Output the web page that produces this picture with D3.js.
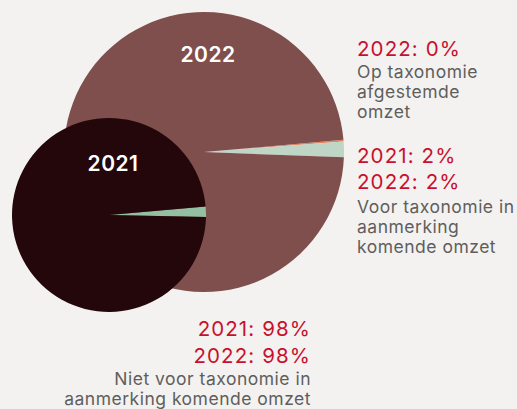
<!DOCTYPE html>
<html>
<head>
<meta charset="utf-8">
<script src="https://cdn.jsdelivr.net/npm/d3@7"></script>
<style>
  body { margin: 0; background: #f3f2f0; }
  svg { display: block; font-family: Inter, "Noto Sans", sans-serif; }
</style>
</head>
<body>
<svg id="chart"></svg>
<script>
const width = 517;
const height = 409;

// share of revenue per category
const categories = ["Op taxonomie afgestemde omzet", "Voor taxonomie in aanmerking komende omzet", "Niet voor taxonomie in aanmerking komende omzet"];
const values2021 = [0, 1.7, 98.3];
const values2022 = [0.2, 1.8, 98];
const colors2021 = ["#e8835f", "#93bfa2", "#24070a"];
const colors2022 = ["#e8835f", "#bfd5c5", "#7f4f4d"];

const svg = d3.select("#chart")
              .attr("width", width)
              .attr("height", height);

const start = 85 * Math.PI / 180;
const pie = d3.pie().sort(null).startAngle(start).endAngle(start + 2 * Math.PI);

function drawPie(values, colors, cx, cy, r, year, labelY) {
  var g = svg.append("g").attr("transform", `translate(${cx},${cy})`);
  var arc = d3.arc().innerRadius(0).outerRadius(r);
  g.selectAll("path")
    .data(pie(values))
    .enter()
    .append("path")
      .attr("d", arc)
      .attr("fill", (d, i) => colors[i]);
  g.append("text")
    .attr("x", 4)
    .attr("y", labelY)
    .attr("text-anchor", "middle")
    .attr("fill", "#fff")
    .attr("font-size", 21)
    .attr("font-weight", 600)
    .attr("letter-spacing", 0.5)
    .text(year);
}

drawPie(values2022, colors2022, 204, 152, 140, "2022", -90);
drawPie(values2021, colors2021, 109, 215, 97, "2021", -44);

// labels
const red = "#c8102e";
const grey = "#5f5e5d";
function label(x, y, anchor, lines) {
  var t = svg.append("text").attr("text-anchor", anchor);
  lines.forEach(function(l) {
    t.append("tspan")
      .attr("x", x)
      .attr("y", y + l.dy)
      .attr("fill", l.red ? red : grey)
      .attr("font-size", l.red ? 20.5 : 17.5)
      .attr("letter-spacing", l.red ? 1.1 : 0.5)
      .text(l.text);
  });
}

label(357, 56, "start", [
  {dy: 0, red: true, text: "2022: " + Math.round(values2022[0]) + "%"},
  {dy: 22, text: "Op taxonomie"},
  {dy: 42, text: "afgestemde"},
  {dy: 62, text: "omzet"}
]);
label(357, 163, "start", [
  {dy: 0, red: true, text: "2021: " + Math.round(values2021[1]) + "%"},
  {dy: 26, red: true, text: "2022: " + Math.round(values2022[1]) + "%"},
  {dy: 50, text: "Voor taxonomie in"},
  {dy: 70, text: "aanmerking"},
  {dy: 90, text: "komende omzet"}
]);
label(311, 336, "end", [
  {dy: 0, red: true, text: "2021: " + Math.round(values2021[2]) + "%"},
  {dy: 27, red: true, text: "2022: " + Math.round(values2022[2]) + "%"},
  {dy: 49, text: "Niet voor taxonomie in"},
  {dy: 69, text: "aanmerking komende omzet"}
]);
</script>
</body>
</html>
